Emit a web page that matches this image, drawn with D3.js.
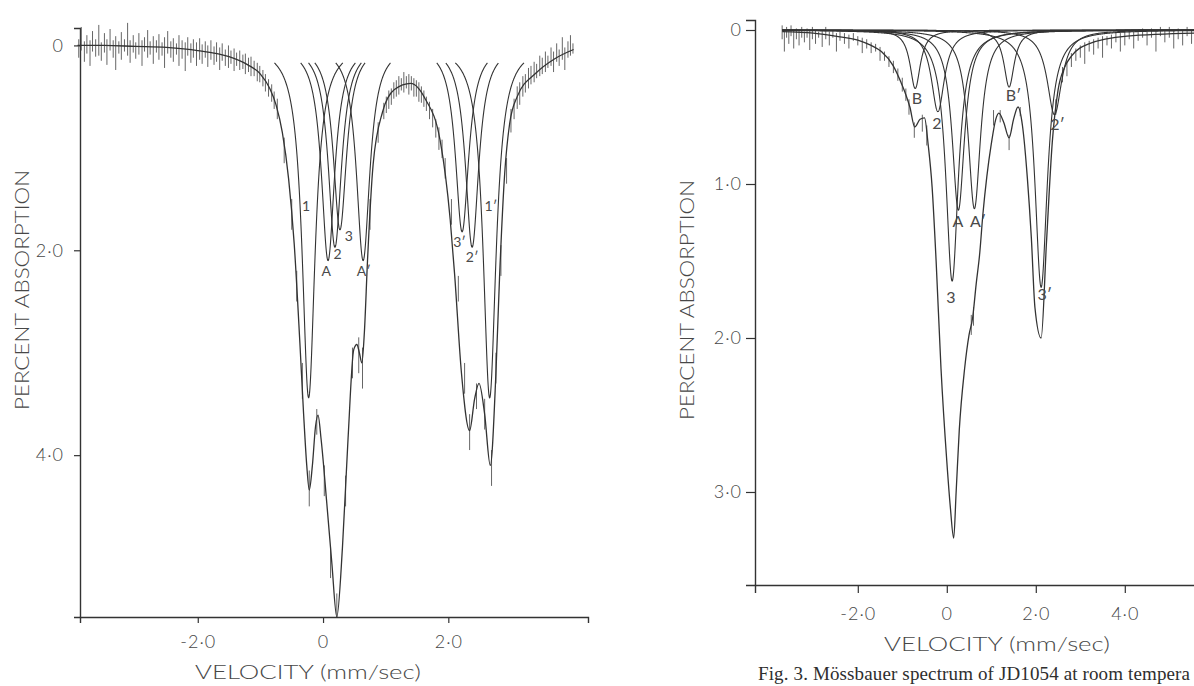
<!DOCTYPE html>
<html>
<head>
<meta charset="utf-8">
<script src="https://cdn.jsdelivr.net/npm/d3@7"></script>
<style>
  html, body { margin: 0; padding: 0; background: #fff; }
  svg { display: block; }
  .lbl { font-family: Lato, "Open Sans", sans-serif; font-weight: 300; fill: #474747; }
  .cmp { font-family: Lato, "Open Sans", sans-serif; font-weight: 400; fill: #4a4a4a; }
  .cap { font-family: "Liberation Serif", "DejaVu Serif", serif; fill: #2e2e2e; }
</style>
</head>
<body>
<div id="chart"></div>
<script>
/* Two Mossbauer spectra: fitted envelope, Lorentzian components, raw scatter ticks. */

// ---- left spectrum: fitted envelope [velocity mm/s, % absorption]
var leftFit = [[-3.92,0.0],[-3.5,0.0],[-3.0,0.01],[-2.5,0.02],[-2.0,0.05],[-1.5,0.11],[-1.2,0.19],[-1.0,0.28],
  [-0.85,0.42],[-0.75,0.58],[-0.65,0.85],[-0.55,1.3],[-0.46,1.94],[-0.37,2.9],[-0.31,3.6],[-0.26,4.1],
  [-0.22,4.34],[-0.17,4.1],[-0.12,3.72],[-0.08,3.61],[-0.03,3.85],[0.06,4.47],[0.14,5.05],[0.22,5.58],
  [0.31,4.9],[0.4,3.83],[0.49,2.97],[0.54,2.92],[0.58,3.0],[0.62,3.1],[0.66,2.8],[0.71,2.1],[0.8,1.16],
  [0.95,0.65],[1.14,0.43],[1.4,0.37],[1.63,0.52],[1.87,0.93],[2.03,1.7],[2.1,2.23],[2.21,3.2],[2.34,3.76],
  [2.42,3.45],[2.49,3.3],[2.58,3.6],[2.67,4.1],[2.76,3.2],[2.82,2.23],[2.9,1.25],[2.98,0.76],[3.1,0.5],
  [3.4,0.27],[3.7,0.13],[4.0,0.04]];

// left components: name, centre (mm/s), depth (%), half width (mm/s), label position
var leftNames  = ["1", "A", "2", "3", "A′", "3′", "2′", "1′"];
var leftCentre = [-0.23, 0.08, 0.19, 0.27, 0.64, 2.22, 2.38, 2.66];
var leftDepth  = [3.44, 2.1, 1.97, 1.8, 2.1, 1.82, 1.97, 3.44];
var leftWidth  = [0.125, 0.13, 0.13, 0.13, 0.13, 0.13, 0.13, 0.125];
var leftLabelV = [-0.27, 0.05, 0.23, 0.41, 0.65, 2.18, 2.38, 2.68];
var leftLabelA = [1.56, 2.2, 2.03, 1.86, 2.2, 1.91, 2.06, 1.56];

// left raw counts: [velocity, top of tick, bottom of tick]
var leftScatter = [[-3.9,-0.06,0.12],[-3.86,-0.18,0.05],[-3.81,-0.04,0.16],[-3.77,-0.1,0.08],[-3.72,-0.05,0.2],
  [-3.68,-0.14,0.06],[-3.63,-0.06,0.11],[-3.58,-0.2,0.1],[-3.54,-0.03,0.15],[-3.49,-0.12,0.07],[-3.45,-0.06,0.19],
  [-3.4,-0.16,0.05],[-3.35,-0.05,0.12],[-3.31,-0.09,0.24],[-3.26,-0.04,0.08],[-3.22,-0.13,0.14],[-3.17,-0.06,0.06],
  [-3.12,-0.22,0.1],[-3.08,-0.05,0.17],[-3.03,-0.1,0.07],[-2.99,-0.03,0.13],[-2.94,-0.12,0.09],[-2.89,-0.05,0.2],
  [-2.85,-0.08,0.06],[-2.8,-0.15,0.12],[-2.76,-0.04,0.09],[-2.71,-0.09,0.18],[-2.66,-0.05,0.07],[-2.62,-0.11,0.14],
  [-2.57,-0.03,0.1],[-2.53,-0.08,0.22],[-2.48,-0.14,0.08],[-2.43,-0.04,0.12],[-2.39,-0.07,0.16],[-2.34,-0.02,0.09],
  [-2.3,-0.1,0.2],[-2.25,-0.05,0.13],[-2.2,-0.03,0.25],[-2.16,-0.08,0.1],[-2.11,-0.02,0.17],[-2.07,-0.06,0.12],
  [-2.02,-0.03,0.2],[-1.97,-0.07,0.14],[-1.93,-0.01,0.18],[-1.88,-0.04,0.12],[-1.84,0.0,0.21],[-1.79,-0.05,0.14],
  [-1.74,0.01,0.19],[-1.7,-0.03,0.16],[-1.65,0.02,0.24],[-1.61,-0.02,0.15],[-1.56,0.04,0.2],[-1.51,0.0,0.22],
  [-1.47,0.05,0.18],[-1.42,0.03,0.25],[-1.38,0.07,0.2],[-1.33,0.05,0.24],[-1.28,0.09,0.23],[-1.24,0.08,0.28],
  [-1.19,0.12,0.26],[-1.15,0.11,0.3],[-1.1,0.15,0.3],[-1.05,0.17,0.35],[-1.01,0.2,0.36],[-0.96,0.24,0.4],
  [-0.92,0.28,0.45],[-0.87,0.33,0.5],[-0.82,0.38,0.55],[-0.78,0.45,0.62],[-0.73,0.52,0.72],
  [-0.62,0.9,1.15],[-0.5,1.5,1.8],[-0.42,2.2,2.5],[-0.33,3.1,3.45],[-0.22,4.15,4.5],[-0.1,3.55,3.8],
  [0.02,4.1,4.4],[0.12,4.9,5.2],[0.22,5.35,5.58],[0.36,4.2,4.5],[0.47,2.95,3.25],[0.57,2.85,3.2],
  [0.63,2.95,3.35],[0.75,1.5,1.8],[0.88,0.75,0.95],
  [0.97,0.56,0.72],[1.01,0.5,0.66],[1.05,0.44,0.62],[1.09,0.42,0.58],[1.13,0.36,0.52],[1.17,0.34,0.5],
  [1.21,0.3,0.48],[1.25,0.32,0.44],[1.29,0.26,0.46],[1.33,0.3,0.42],[1.37,0.28,0.48],[1.41,0.3,0.44],
  [1.45,0.32,0.5],[1.49,0.34,0.5],[1.53,0.36,0.55],[1.57,0.4,0.56],[1.61,0.44,0.6],[1.65,0.5,0.64],
  [1.7,0.55,0.72],[1.75,0.62,0.8],[1.8,0.72,0.9],[1.85,0.8,1.02],[1.9,0.92,1.1],[1.95,1.1,1.3],
  [2.05,1.5,1.75],[2.16,2.25,2.5],[2.26,3.1,3.4],[2.34,3.6,3.95],[2.45,3.3,3.55],[2.58,3.45,3.75],
  [2.69,3.95,4.3],[2.76,3.0,3.3],[2.84,1.95,2.25],[2.93,1.1,1.35],
  [3.0,0.62,0.85],[3.05,0.52,0.72],[3.1,0.4,0.62],[3.14,0.36,0.58],[3.19,0.3,0.5],[3.23,0.28,0.46],
  [3.28,0.22,0.42],[3.32,0.2,0.38],[3.37,0.16,0.36],[3.41,0.18,0.32],[3.46,0.1,0.3],[3.5,0.12,0.28],
  [3.55,0.06,0.26],[3.59,0.1,0.22],[3.64,0.02,0.2],[3.68,0.06,0.26],[3.73,-0.02,0.16],[3.77,0.04,0.2],
  [3.82,-0.08,0.14],[3.86,0.02,0.24],[3.91,-0.04,0.12],[3.95,-0.1,0.1],[3.99,-0.02,0.08]];

var leftXTicks = [-2, 0, 2];
var leftXTickLabels = ["-2·0", "0", "2·0"];
var leftYTicks = [0, 2, 4];
var leftYTickLabels = ["0", "2·0", "4·0"];

// ---- right spectrum (JD1054)
var rightFit = [[-3.7,0.01],[-3.0,0.02],[-2.5,0.04],[-2.0,0.065],[-1.7,0.1],[-1.47,0.14],[-1.21,0.23],
  [-1.03,0.34],[-0.92,0.42],[-0.83,0.5],[-0.72,0.63],[-0.6,0.58],[-0.5,0.57],[-0.42,0.74],[-0.33,1.02],
  [-0.24,1.5],[-0.13,2.2],[0.0,2.8],[0.08,3.1],[0.155,3.3],[0.21,3.0],[0.28,2.6],[0.4,2.2],[0.5,1.98],
  [0.58,1.87],[0.66,1.65],[0.74,1.45],[0.81,1.2],[0.9,0.95],[1.0,0.74],[1.1,0.58],[1.17,0.54],[1.28,0.6],
  [1.4,0.7],[1.5,0.58],[1.6,0.5],[1.7,0.62],[1.81,0.96],[1.9,1.35],[1.98,1.8],[2.12,2.0],[2.24,1.38],
  [2.37,0.73],[2.5,0.39],[2.65,0.24],[2.8,0.17],[3.19,0.09],[4.05,0.04],[5.6,0.02]];

var rightNames  = ["B", "2", "3", "A", "A′", "B′", "3′", "2′"];
var rightCentre = [-0.71, -0.2, 0.12, 0.26, 0.62, 1.4, 2.12, 2.42];
var rightDepth  = [0.38, 0.53, 1.63, 1.17, 1.16, 0.37, 1.67, 0.55];
var rightWidth  = [0.14, 0.18, 0.17, 0.17, 0.17, 0.14, 0.17, 0.2];
var rightLabelV = [-0.67, -0.22, 0.09, 0.25, 0.7, 1.5, 2.2, 2.49];
var rightLabelA = [0.44, 0.6, 1.73, 1.24, 1.24, 0.42, 1.71, 0.61];

var rightScatter = [[-3.7,-0.03,0.06],[-3.65,0.0,0.14],[-3.6,-0.02,0.05],[-3.55,0.0,0.09],[-3.5,-0.03,0.04],
  [-3.44,0.0,0.12],[-3.38,-0.01,0.06],[-3.32,0.0,0.1],[-3.26,-0.02,0.05],[-3.2,0.01,0.08],[-3.14,-0.01,0.05],
  [-3.08,0.0,0.13],[-3.02,-0.02,0.06],[-2.95,0.0,0.09],[-2.88,0.01,0.05],[-2.8,0.0,0.11],[-2.72,-0.02,0.06],
  [-2.64,0.01,0.1],[-2.56,0.0,0.05],[-2.48,0.02,0.14],[-2.4,0.01,0.07],[-2.3,0.02,0.09],[-2.2,0.03,0.12],
  [-2.1,0.02,0.07],[-2.0,0.04,0.1],[-1.9,0.05,0.15],[-1.8,0.06,0.12],[-1.7,0.08,0.15],[-1.6,0.09,0.14],
  [-1.5,0.11,0.2],[-1.4,0.14,0.2],[-1.3,0.17,0.24],[-1.2,0.2,0.28],[-1.1,0.25,0.33],[-1.0,0.31,0.4],
  [-0.92,0.38,0.46],[-0.85,0.45,0.55],[-0.73,0.6,0.7],[-0.55,0.55,0.66],[-0.45,0.62,0.75],
  [0.55,1.85,1.98],[0.6,1.8,1.92],[1.05,0.52,0.62],[1.2,0.52,0.6],[1.4,0.68,0.78],[1.65,0.5,0.56],
  [2.45,0.45,0.55],[2.6,0.24,0.34],[2.7,0.2,0.3],
  [2.8,0.15,0.24],[2.9,0.12,0.2],[3.0,0.1,0.18],[3.1,0.08,0.22],[3.2,0.07,0.14],[3.3,0.06,0.16],
  [3.4,0.05,0.12],[3.5,0.04,0.18],[3.6,0.04,0.1],[3.7,0.03,0.12],[3.8,0.02,0.08],[3.9,0.02,0.14],
  [4.0,0.01,0.1],[4.1,0.0,0.06],[4.2,0.01,0.12],[4.3,0.0,0.07],[4.4,-0.01,0.05],[4.5,0.0,0.1],
  [4.6,-0.01,0.05],[4.7,0.0,0.14],[4.8,-0.02,0.04],[4.9,0.0,0.08],[5.0,-0.02,0.05],[5.1,0.0,0.12],
  [5.2,-0.01,0.06],[5.3,0.0,0.1],[5.4,-0.02,0.04],[5.5,0.0,0.09]];

var rightXTicks = [-2, 0, 2, 4];
var rightXTickLabels = ["-2·0", "0", "2·0", "4·0"];
var rightYTicks = [0, 1, 2, 3];
var rightYTickLabels = ["0", "1·0", "2·0", "3·0"];

var caption = "Fig. 3. Mössbauer spectrum of JD1054 at room tempera";

var width = 1194, height = 686;
var ink = "#333";

var svg = d3.select("#chart").append("svg")
  .attr("width", width).attr("height", height)
  .attr("viewBox", "0 0 " + width + " " + height);

function drawPanel(p) {
  var x = d3.scaleLinear().domain(p.vDomain).range(p.xRange);
  var y = d3.scaleLinear().domain(p.aDomain).range(p.yRange);
  var g = svg.append("g");
  var bottom = p.yRange[1];

  var xAxis = g.append("g").attr("transform", "translate(0," + bottom + ")")
    .call(d3.axisBottom(x).tickValues(p.xTicks).tickSizeOuter(0).tickSize(p.tickX).tickPadding(p.padX)
      .tickFormat(function (v, i) { return p.xLabels[i]; }));
  var yAxis = g.append("g").attr("transform", "translate(" + p.xRange[0] + ",0)")
    .call(d3.axisLeft(y).tickValues(p.yTicks).tickSizeOuter(0).tickSize(p.tickY).tickPadding(p.padY)
      .tickFormat(function (v, i) { return p.yLabels[i]; }));
  [xAxis, yAxis].forEach(function (a) {
    a.select(".domain").attr("stroke", ink).attr("stroke-width", 1.4);
    a.selectAll(".tick line").attr("stroke", ink).attr("stroke-width", 1.2);
    a.selectAll(".tick text").attr("class", "lbl").style("font-size", "18px").style("letter-spacing", "1px");
  });

  // raw counts
  g.append("g").selectAll("line").data(p.scatter).join("line")
    .attr("x1", function (d) { return x(d[0]); }).attr("x2", function (d) { return x(d[0]); })
    .attr("y1", function (d) { return y(d[1]); }).attr("y2", function (d) { return y(d[2]); })
    .attr("stroke", "#555").attr("stroke-width", 0.9);

  // Lorentzian components from read-off centre / depth / width
  var grid = d3.range(p.fit[0][0], p.fit[p.fit.length - 1][0] + 0.001, 0.004);
  p.centre.forEach(function (c, i) {
    var pts = grid.map(function (v) {
      var t = (v - c) / p.width[i];
      return [v, p.depth[i] / (1 + t * t)];
    });
    var line = d3.line()
      .defined(function (d) { return d[1] >= p.cut; })
      .x(function (d) { return x(d[0]); }).y(function (d) { return y(d[1]); });
    g.append("path").datum(pts)
      .attr("fill", "none").attr("stroke", ink).attr("stroke-width", 1.1).attr("d", line);
  });

  // fitted envelope
  var env = d3.line().x(function (d) { return x(d[0]); }).y(function (d) { return y(d[1]); })
    .curve(d3.curveMonotoneX);
  g.append("path").datum(p.fit)
    .attr("fill", "none").attr("stroke", ink).attr("stroke-width", 1.3).attr("d", env);

  // component labels
  g.append("g").selectAll("text").data(p.names).join("text")
    .attr("class", "cmp")
    .attr("x", function (d, i) { return x(p.labelV[i]); })
    .attr("y", function (d, i) { return y(p.labelA[i]); })
    .attr("text-anchor", "middle").attr("dominant-baseline", "central")
    .style("font-size", p.labelSize + "px")
    .text(function (d) { return d; });

  // axis titles
  g.append("text").attr("class", "lbl")
    .attr("x", p.xTitle[0]).attr("y", p.xTitle[1])
    .attr("text-anchor", "middle").attr("dominant-baseline", "central")
    .attr("textLength", 226).attr("lengthAdjust", "spacingAndGlyphs")
    .style("font-size", "19px")
    .text("VELOCITY (mm/sec)");
  g.append("text").attr("class", "lbl")
    .attr("transform", "translate(" + p.yTitle[0] + "," + p.yTitle[1] + ") rotate(-90)")
    .attr("text-anchor", "middle").attr("dominant-baseline", "central")
    .attr("textLength", 240).attr("lengthAdjust", "spacingAndGlyphs")
    .style("font-size", "19px")
    .text("PERCENT ABSORPTION");
}

drawPanel({
  vDomain: [-3.88, 4.23], xRange: [80, 588],
  aDomain: [-0.17, 5.58], yRange: [28, 617],
  xTicks: leftXTicks, xLabels: leftXTickLabels, yTicks: leftYTicks, yLabels: leftYTickLabels,
  tickX: 6, padX: 12, tickY: 6, padY: 10,
  fit: leftFit, scatter: leftScatter, cut: 0.17,
  names: leftNames, centre: leftCentre, depth: leftDepth, width: leftWidth,
  labelV: leftLabelV, labelA: leftLabelA, labelSize: 14,
  xTitle: [308, 671], yTitle: [21, 290]
});

drawPanel({
  vDomain: [-4.31, 5.6], xRange: [755, 1196],
  aDomain: [-0.065, 3.604], yRange: [20, 585],
  xTicks: rightXTicks, xLabels: rightXTickLabels, yTicks: rightYTicks, yLabels: rightYTickLabels,
  tickX: 8, padX: 14, tickY: 9, padY: 4,
  fit: rightFit, scatter: rightScatter, cut: 0,
  names: rightNames, centre: rightCentre, depth: rightDepth, width: rightWidth,
  labelV: rightLabelV, labelA: rightLabelA, labelSize: 16,
  xTitle: [997, 643], yTitle: [686, 300]
});

svg.append("text").attr("class", "cap")
  .attr("x", 758).attr("y", 680)
  .attr("textLength", 432).attr("lengthAdjust", "spacing")
  .style("font-size", "19px")
  .text(caption);
</script>
</body>
</html>
